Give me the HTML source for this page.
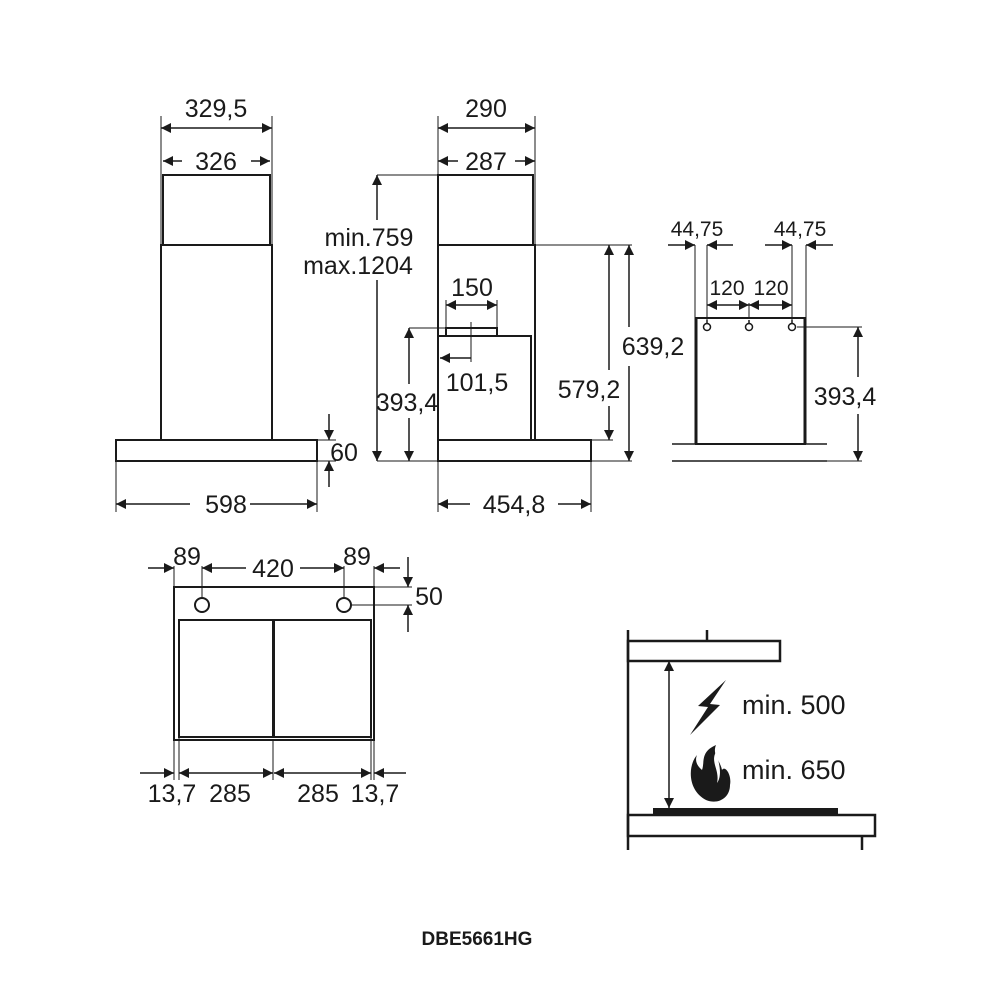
<!DOCTYPE html>
<html><head><meta charset="utf-8"><style>
html,body{margin:0;padding:0;background:#fff}
svg{display:block}
text{font-family:"Liberation Sans",sans-serif;fill:#1a1a1a}
</style></head><body>
<svg width="1000" height="1000" viewBox="0 0 1000 1000" xmlns="http://www.w3.org/2000/svg">
<defs>
<marker id="a" viewBox="0 0 10 10" refX="10" refY="5" markerWidth="14" markerHeight="10" markerUnits="userSpaceOnUse" orient="auto-start-reverse">
<path d="M0,0 L10,5 L0,10 z" fill="#1a1a1a"/></marker>
</defs>
<g stroke="#1a1a1a" fill="none">
<!-- View 1 -->
<g stroke-width="2">
<rect x="163" y="175" width="107" height="70"/>
<rect x="161" y="245" width="111" height="195"/>
<rect x="116" y="440" width="201" height="21"/>
</g>
<g stroke-width="1">
<line x1="161" y1="116" x2="161" y2="245"/><line x1="272" y1="116" x2="272" y2="245"/>
<line x1="116" y1="461" x2="116" y2="512"/><line x1="317" y1="461" x2="317" y2="512"/>
<line x1="317" y1="440" x2="336" y2="440"/><line x1="317" y1="461" x2="336" y2="461"/>
</g>
<g stroke-width="1.5">
<line x1="161" y1="128" x2="272" y2="128" marker-start="url(#a)" marker-end="url(#a)"/>
<line x1="163" y1="161" x2="182" y2="161" marker-start="url(#a)"/>
<line x1="251" y1="161" x2="270" y2="161" marker-end="url(#a)"/>
<line x1="116" y1="504" x2="190" y2="504" marker-start="url(#a)"/>
<line x1="250" y1="504" x2="317" y2="504" marker-end="url(#a)"/>
<line x1="329" y1="414" x2="329" y2="440" marker-end="url(#a)"/>
<line x1="329" y1="487" x2="329" y2="461" marker-end="url(#a)"/>
</g>
<!-- View 2 -->
<g stroke-width="2">
<rect x="438" y="175" width="95" height="70"/>
<rect x="438" y="245" width="97" height="195"/>
<rect x="438" y="336" width="93" height="104"/>
<rect x="446" y="328" width="51" height="8"/>
<rect x="438" y="440" width="153" height="21"/>
</g>
<g stroke-width="1">
<line x1="438" y1="116" x2="438" y2="175"/><line x1="535" y1="116" x2="535" y2="245"/>
<line x1="377" y1="175" x2="438" y2="175"/>
<line x1="377" y1="461" x2="632" y2="461"/>
<line x1="535" y1="245" x2="632" y2="245"/>
<line x1="591" y1="440" x2="613" y2="440"/>
<line x1="409" y1="328" x2="446" y2="328"/>
<line x1="446" y1="300" x2="446" y2="328"/><line x1="497" y1="300" x2="497" y2="328"/>
<line x1="471" y1="322" x2="471" y2="362"/>
<line x1="438" y1="461" x2="438" y2="512"/><line x1="591" y1="461" x2="591" y2="512"/>
</g>
<g stroke-width="1.5">
<line x1="438" y1="128" x2="535" y2="128" marker-start="url(#a)" marker-end="url(#a)"/>
<line x1="438" y1="161" x2="458" y2="161" marker-start="url(#a)"/>
<line x1="515" y1="161" x2="535" y2="161" marker-end="url(#a)"/>
<line x1="377" y1="175" x2="377" y2="220" marker-start="url(#a)"/>
<line x1="377" y1="280" x2="377" y2="461" marker-end="url(#a)"/>
<line x1="409" y1="328" x2="409" y2="384" marker-start="url(#a)"/>
<line x1="409" y1="418" x2="409" y2="461" marker-end="url(#a)"/>
<line x1="446" y1="305" x2="497" y2="305" marker-start="url(#a)" marker-end="url(#a)"/>
<line x1="440" y1="358" x2="471" y2="358" marker-start="url(#a)"/>
<line x1="609" y1="245" x2="609" y2="370" marker-start="url(#a)"/>
<line x1="609" y1="406" x2="609" y2="440" marker-end="url(#a)"/>
<line x1="629" y1="245" x2="629" y2="327" marker-start="url(#a)"/>
<line x1="629" y1="366" x2="629" y2="461" marker-end="url(#a)"/>
<line x1="438" y1="504" x2="470" y2="504" marker-start="url(#a)"/>
<line x1="558" y1="504" x2="591" y2="504" marker-end="url(#a)"/>
</g>
<!-- View 3 -->
<g stroke-width="2">
<line x1="695" y1="318" x2="806" y2="318"/>
<line x1="695" y1="444" x2="806" y2="444"/>
</g>
<g stroke-width="3"><line x1="696" y1="318" x2="696" y2="444"/><line x1="805" y1="318" x2="805" y2="444"/></g>
<g stroke-width="1.5">
<line x1="672" y1="444" x2="695" y2="444"/><line x1="806" y1="444" x2="827" y2="444"/>
<line x1="672" y1="461" x2="827" y2="461"/>
<circle cx="707" cy="327" r="3.5"/><circle cx="749" cy="327" r="3.5"/><circle cx="792" cy="327" r="3.5"/>
<line x1="707" y1="320" x2="707" y2="324"/><line x1="749" y1="320" x2="749" y2="324"/><line x1="792" y1="320" x2="792" y2="324"/>
</g>
<g stroke-width="1">
<line x1="695" y1="245" x2="695" y2="318"/><line x1="707" y1="245" x2="707" y2="323"/>
<line x1="792" y1="245" x2="792" y2="323"/><line x1="806" y1="245" x2="806" y2="318"/>
<line x1="749" y1="303" x2="749" y2="318"/>
<line x1="797" y1="327" x2="862" y2="327"/>
<line x1="827" y1="461" x2="862" y2="461"/>
</g>
<g stroke-width="1.5">
<line x1="668" y1="245" x2="695" y2="245" marker-end="url(#a)"/>
<line x1="733" y1="245" x2="707" y2="245" marker-end="url(#a)"/>
<line x1="765" y1="245" x2="792" y2="245" marker-end="url(#a)"/>
<line x1="833" y1="245" x2="806" y2="245" marker-end="url(#a)"/>
<line x1="707" y1="305" x2="749" y2="305" marker-start="url(#a)" marker-end="url(#a)"/>
<line x1="749" y1="305" x2="792" y2="305" marker-start="url(#a)" marker-end="url(#a)"/>
<line x1="858" y1="327" x2="858" y2="377" marker-start="url(#a)"/>
<line x1="858" y1="414" x2="858" y2="461" marker-end="url(#a)"/>
</g>
<!-- View 4 -->
<g stroke-width="2">
<rect x="174" y="587" width="200" height="153"/>
<rect x="179" y="620" width="94" height="117"/>
<rect x="274" y="620" width="97" height="117"/>
<circle cx="202" cy="605" r="7"/><circle cx="344" cy="605" r="7"/>
</g>
<g stroke-width="1">
<line x1="174" y1="566" x2="174" y2="587"/><line x1="374" y1="566" x2="374" y2="587"/>
<line x1="202" y1="566" x2="202" y2="598"/><line x1="344" y1="566" x2="344" y2="598"/>
<line x1="374" y1="587" x2="412" y2="587"/><line x1="351" y1="605" x2="412" y2="605"/>
<line x1="174" y1="740" x2="174" y2="780"/><line x1="179" y1="737" x2="179" y2="780"/>
<line x1="273" y1="740" x2="273" y2="780"/><line x1="371" y1="737" x2="371" y2="780"/>
<line x1="374" y1="740" x2="374" y2="780"/>
</g>
<g stroke-width="1.5">
<line x1="148" y1="568" x2="174" y2="568" marker-end="url(#a)"/>
<line x1="202" y1="568" x2="246" y2="568" marker-start="url(#a)"/>
<line x1="300" y1="568" x2="344" y2="568" marker-end="url(#a)"/>
<line x1="400" y1="568" x2="374" y2="568" marker-end="url(#a)"/>
<line x1="408" y1="557" x2="408" y2="587" marker-end="url(#a)"/>
<line x1="408" y1="632" x2="408" y2="605" marker-end="url(#a)"/>
<line x1="140" y1="773" x2="174" y2="773" marker-end="url(#a)"/>
<line x1="179" y1="773" x2="273" y2="773" marker-start="url(#a)" marker-end="url(#a)"/>
<line x1="274" y1="773" x2="371" y2="773" marker-start="url(#a)" marker-end="url(#a)"/>
<line x1="406" y1="773" x2="374" y2="773" marker-end="url(#a)"/>
</g>
<!-- View 5 -->
<g stroke-width="2.5">
<line x1="628" y1="630" x2="628" y2="850"/>
<line x1="707" y1="630" x2="707" y2="641"/>
<rect x="628" y="641" width="152" height="20"/>
<rect x="628" y="815" width="247" height="21"/>
<line x1="862" y1="836" x2="862" y2="850"/>
</g>
<rect x="653" y="808" width="185" height="6" fill="#1a1a1a" stroke="none"/>
<line x1="669" y1="661" x2="669" y2="808" stroke-width="1.5" marker-start="url(#a)" marker-end="url(#a)"/>
<path d="M726,680 L698,706 L708,707 L690,735 L720,705 L710,704 Z" fill="#1a1a1a" stroke="none"/>
<path d="M716,745 C700,752 705,762 702,770 C696,765 695,760 697,755 C688,765 687,790 706,800 C718,805 730,798 730,785 C732,775 725,765 722,770 C720,760 712,755 716,745 Z" fill="#1a1a1a" stroke="none"/>
<path d="M716,752 C710,762 720,770 717,783 C722,776 720,765 716,752 Z" fill="#fff" stroke="none"/>
</g>
<g font-size="25" text-anchor="middle">
<text x="216" y="117">329,5</text>
<text x="216" y="170">326</text>
<text x="226" y="513">598</text>
<text x="344" y="461">60</text>
<text x="486" y="117">290</text>
<text x="486" y="170">287</text>
<text x="369" y="246">min.759</text>
<text x="358" y="274">max.1204</text>
<text x="472" y="296">150</text>
<text x="477" y="391">101,5</text>
<text x="407" y="411">393,4</text>
<text x="589" y="398">579,2</text>
<text x="653" y="355">639,2</text>
<text x="514" y="513">454,8</text>
<text x="697" y="236" font-size="21">44,75</text>
<text x="800" y="236" font-size="21">44,75</text>
<text x="727" y="295" font-size="21">120</text>
<text x="771" y="295" font-size="21">120</text>
<text x="845" y="405">393,4</text>
<text x="187" y="565">89</text>
<text x="273" y="577">420</text>
<text x="357" y="565">89</text>
<text x="429" y="605">50</text>
<text x="172" y="802">13,7</text>
<text x="230" y="802">285</text>
<text x="318" y="802">285</text>
<text x="375" y="802">13,7</text>
</g>
<text x="742" y="714" font-size="27">min. 500</text>
<text x="742" y="779" font-size="27">min. 650</text>
<text x="477" y="945" font-size="19" font-weight="bold" text-anchor="middle">DBE5661HG</text>
</svg>
</body></html>
